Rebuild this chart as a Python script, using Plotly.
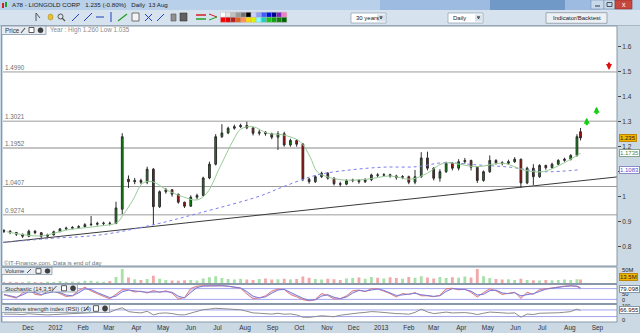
import plotly.graph_objects as go
import pandas as pd

W, H = 640, 333
FONT = "DejaVu Sans"
NFONT = "Liberation Sans"

# ---------------- data (weekly candles) ----------------
week_dates = list(pd.date_range("2011-11-04", periods=93, freq="W-FRI").strftime("%Y-%m-%d")) + ["2013-08-13"]

open_ = [0.865, 0.862, 0.857, 0.85, 0.842, 0.862, 0.856, 0.842, 0.847, 0.86,
         0.871, 0.874, 0.877, 0.88, 0.888, 0.89, 0.893, 0.894, 0.893, 0.95,
         1.07, 1.06, 1.065, 1.058, 1.11, 0.96, 1.02, 1.028, 1.01, 0.978,
         0.962, 0.998, 1.005, 1.075, 1.13, 1.24, 1.255, 1.274, 1.28, 1.285,
         1.275, 1.254, 1.258, 1.252, 1.238, 1.252, 1.207, 1.225, 1.21, 1.07,
         1.06, 1.08, 1.094, 1.074, 1.052, 1.05, 1.064, 1.066, 1.06, 1.068,
         1.087, 1.086, 1.088, 1.083, 1.078, 1.08, 1.058, 1.08, 1.155, 1.114,
         1.074, 1.1, 1.134, 1.114, 1.14, 1.145, 1.118, 1.065, 1.1, 1.145,
         1.136, 1.134, 1.14, 1.15, 1.055, 1.114, 1.08, 1.125, 1.116, 1.13,
         1.145, 1.15, 1.165, 1.26]
close = [0.862, 0.857, 0.85, 0.842, 0.862, 0.856, 0.842, 0.847, 0.86, 0.871,
         0.874, 0.877, 0.88, 0.888, 0.89, 0.893, 0.894, 0.893, 0.955, 1.24,
         1.06, 1.065, 1.058, 1.11, 0.96, 1.02, 1.028, 1.01, 0.978, 0.962,
         0.998, 1.005, 1.075, 1.13, 1.24, 1.255, 1.274, 1.28, 1.285, 1.275,
         1.254, 1.258, 1.252, 1.238, 1.252, 1.207, 1.225, 1.21, 1.07, 1.06,
         1.08, 1.094, 1.074, 1.052, 1.05, 1.064, 1.066, 1.06, 1.068, 1.087,
         1.086, 1.088, 1.083, 1.078, 1.08, 1.058, 1.08, 1.155, 1.114, 1.074,
         1.1, 1.134, 1.114, 1.14, 1.145, 1.118, 1.065, 1.1, 1.145, 1.136,
         1.134, 1.14, 1.15, 1.055, 1.114, 1.08, 1.125, 1.116, 1.13, 1.145,
         1.15, 1.165, 1.24, 1.235]
high = [0.87, 0.866, 0.858, 0.852, 0.868, 0.866, 0.858, 0.852, 0.864, 0.875,
        0.88, 0.882, 0.886, 0.894, 0.923, 0.9, 0.9, 0.9, 0.98, 1.254,
        1.085, 1.075, 1.072, 1.12, 1.115, 1.025, 1.035, 1.03, 1.012, 0.98,
        1.005, 1.012, 1.08, 1.14, 1.25, 1.29, 1.28, 1.288, 1.292, 1.3,
        1.278, 1.268, 1.262, 1.256, 1.262, 1.26, 1.232, 1.23, 1.215, 1.075,
        1.085, 1.1, 1.098, 1.078, 1.06, 1.07, 1.072, 1.07, 1.074, 1.092,
        1.094, 1.094, 1.092, 1.088, 1.086, 1.084, 1.107, 1.178, 1.18, 1.118,
        1.11, 1.14, 1.138, 1.15, 1.155, 1.148, 1.12, 1.105, 1.165, 1.15,
        1.142, 1.148, 1.158, 1.152, 1.12, 1.13, 1.13, 1.128, 1.136, 1.15,
        1.156, 1.17, 1.25, 1.275]
low = [0.855, 0.85, 0.843, 0.835, 0.838, 0.85, 0.835, 0.838, 0.845, 0.858,
       0.866, 0.87, 0.872, 0.876, 0.882, 0.884, 0.886, 0.885, 0.89, 0.93,
       1.035, 1.05, 1.05, 1.05, 0.887, 0.955, 1.012, 1.0, 0.972, 0.955,
       0.96, 0.99, 1.0, 1.07, 1.125, 1.235, 1.25, 1.268, 1.275, 1.27,
       1.245, 1.245, 1.244, 1.23, 1.187, 1.2, 1.2, 1.2, 1.062, 1.052,
       1.055, 1.075, 1.068, 1.045, 1.04, 1.046, 1.058, 1.052, 1.055, 1.062,
       1.078, 1.08, 1.076, 1.068, 1.07, 1.05, 1.05, 1.075, 1.105, 1.065,
       1.06, 1.095, 1.105, 1.105, 1.132, 1.105, 1.055, 1.06, 1.095, 1.128,
       1.125, 1.128, 1.135, 1.035, 1.05, 1.047, 1.075, 1.108, 1.112, 1.126,
       1.14, 1.145, 1.16, 1.225]
volume_m = [5, 6, 5, 4, 7, 5, 4, 6, 5, 8, 6, 7, 6, 9,
            9, 7, 6, 8, 22, 48,
            20, 14, 12, 15, 26,
            16, 12, 10, 9, 11, 12, 10, 17, 21,
            24, 18, 15, 13, 16, 13, 12,
            15, 17, 13, 14, 16, 13, 15,
            23, 19, 15, 13, 16, 14, 12, 17,
            18, 20, 16, 22, 19, 17, 21, 18, 16, 22, 19,
            24, 20, 17, 22, 18, 21, 19, 23, 20, 48,
            24, 18, 15, 13, 14, 12,
            16, 12, 11, 10, 12, 11, 12, 13, 12, 14, 13.5]
stoch_k = [45, 35, 27, 56, 76, 48, 43, 65, 66, 52,
           36, 40, 70, 88, 67, 51, 38, 23, 49, 75,
           73, 61, 66, 55, 70, 59, 68, 55, 22, 30,
           81, 94, 96, 97, 97, 96, 93, 87, 82, 50,
           24, 28, 40, 66, 78, 75, 47, 34, 18, 12,
           20, 53, 42, 22, 24, 40, 68, 72, 63, 80,
           78, 66, 52, 33, 53, 47, 58, 40, 40, 35,
           43, 80, 82, 73, 77, 59, 33, 58, 79, 68,
           47, 54, 60, 25, 60, 48, 75, 79, 84, 91,
           94, 96, 92, 79]
stoch_d = [48, 40, 32, 45, 62, 58, 47, 55, 62, 58,
           44, 40, 56, 78, 75, 58, 45, 30, 38, 62,
           72, 66, 63, 60, 63, 62, 63, 60, 38, 28,
           58, 86, 94, 96, 97, 96, 94, 90, 84, 64,
           38, 28, 34, 54, 72, 76, 58, 40, 26, 15,
           17, 38, 46, 32, 24, 33, 55, 70, 66, 72,
           78, 70, 58, 42, 45, 50, 54, 46, 40, 37,
           40, 64, 80, 77, 75, 66, 45, 48, 68, 72,
           56, 52, 57, 40, 46, 52, 64, 77, 82, 88,
           92, 95, 94, 85]
rsi = [45, 46, 44, 42, 47, 44, 41, 40, 42, 44,
       45, 47, 50, 53, 56, 54, 57, 56, 72, 83,
       60, 55, 52, 62, 40, 50, 52, 48, 41, 40,
       50, 60, 72, 75, 80, 78, 76, 74, 71, 62,
       52, 50, 48, 45, 50, 44, 46, 40, 26, 25,
       30, 35, 32, 29, 38, 44, 50, 52, 55, 60,
       58, 54, 50, 48, 47, 44, 55, 75, 58, 48,
       52, 57, 52, 55, 54, 50, 42, 50, 57, 55,
       52, 50, 52, 26, 45, 42, 50, 50, 51, 53,
       56, 60, 75, 67]

ma_short_dates = ["2011-11-07", "2011-12-14", "2012-01-14", "2012-02-20", "2012-03-10", "2012-03-17",
                  "2012-03-28", "2012-04-08", "2012-04-19", "2012-05-05", "2012-05-23", "2012-06-08",
                  "2012-06-19", "2012-07-04", "2012-07-19", "2012-07-27", "2012-08-10", "2012-08-26",
                  "2012-09-13", "2012-10-02", "2012-10-13", "2012-10-21", "2012-11-01", "2012-11-19",
                  "2012-12-16", "2013-01-11", "2013-02-03", "2013-02-22", "2013-03-12", "2013-04-19",
                  "2013-05-18", "2013-06-10", "2013-07-02", "2013-07-21", "2013-08-13"]
ma_short_vals = [0.86, 0.843, 0.867, 0.883, 0.896, 0.927, 0.987, 1.054, 1.06, 1.027, 1.0, 0.987,
                 1.014, 1.12, 1.227, 1.27, 1.28, 1.254, 1.247, 1.22, 1.16, 1.10, 1.08, 1.067,
                 1.07, 1.083, 1.07, 1.094, 1.134, 1.12, 1.134, 1.107, 1.10, 1.127, 1.1735]
ma_long_dates = ["2011-11-03", "2011-12-26", "2012-02-20", "2012-04-19", "2012-06-11", "2012-08-18",
                 "2012-09-13", "2012-10-21", "2012-11-27", "2013-01-03", "2013-02-10", "2013-03-12",
                 "2013-04-19", "2013-05-26", "2013-07-02", "2013-08-13"]
ma_long_vals = [0.817, 0.833, 0.847, 0.887, 0.935, 1.003, 1.04, 1.087, 1.107, 1.118, 1.12, 1.136,
                1.127, 1.118, 1.10, 1.1083]
trend_dates = ["2011-11-03", "2013-09-23"]
trend_vals = [0.817, 1.079]

fib_levels = [1.4990, 1.3021, 1.1952, 1.0407, 0.9274]
fib_labels = ["1.4990", "1.3021", "1.1952", "1.0407", "0.9274"]

arrow_up_dates = ["2013-08-20", "2013-08-31"]
arrow_up_vals = [1.316, 1.36]
arrow_down_dates = ["2013-09-14"]
arrow_down_vals = [1.507]

month_ticks = list(pd.date_range("2011-12-01", "2013-09-01", freq="MS").strftime("%Y-%m-%d"))
month_labels = ["Dec", "2012", "Feb", "Mar", "Apr", "May", "Jun", "Jul", "Aug", "Sep", "Oct", "Nov",
                "Dec", "2013", "Feb", "Mar", "Apr", "May", "Jun", "Jul", "Aug", "Sep"]
price_ticks = [0.8, 0.9, 1.0, 1.1, 1.2, 1.3, 1.4, 1.5, 1.6]
price_tick_labels = ["0.8", "0.9", "1", "1.1", "1.2", "1.3", "1.4", "1.5", "1.6"]

last_price = 1.235
ma_short_last = 1.1735
ma_long_last = 1.1083
stoch_last = 79.098
rsi_last = 66.955
volume_last_label = "13.5M"
volume_top_label = "50M"
window_title = "A78 - LIONGOLD CORP&nbsp;&nbsp;&nbsp;1.235 (-0.80%)&nbsp;&nbsp;&nbsp;Daily&nbsp;&nbsp;13 Aug"

# ---------------- helpers ----------------
def P(xpx):
    return xpx / W


def Q(ypx):
    return 1 - ypx / H


shapes = []
annotations = []


def rect(x0, y0, x1, y1, fill, line=None, lw=1, layer="above"):
    shapes.append(dict(type="rect", xref="paper", yref="paper",
                       x0=P(x0), x1=P(x1), y0=Q(y1), y1=Q(y0),
                       fillcolor=fill, layer=layer,
                       line=dict(color=line if line else "rgba(0,0,0,0)", width=lw if line else 0)))


def pline(x0, y0, x1, y1, color, lw=1):
    shapes.append(dict(type="line", xref="paper", yref="paper",
                       x0=P(x0), x1=P(x1), y0=Q(y0), y1=Q(y1),
                       line=dict(color=color, width=lw), layer="above"))


def text(x, y, s, size=7, color="#222", anchor="left", family=NFONT, **kw):
    annotations.append(dict(xref="paper", yref="paper", x=P(x), y=Q(y), text=s,
                            showarrow=False, xanchor=anchor, yanchor="middle",
                            font=dict(family=family, size=size, color=color), **kw))


# ---------------- traces ----------------
fig = go.Figure()

fig.add_trace(go.Scatter(x=trend_dates, y=trend_vals, mode="lines",
                         line=dict(color="#3a3a3a", width=1), xaxis="x", yaxis="y",
                         hoverinfo="skip", showlegend=False))
fig.add_trace(go.Scatter(x=ma_long_dates, y=ma_long_vals, mode="lines",
                         line=dict(color="#7c7cf0", width=1, dash="dot", shape="spline"),
                         xaxis="x", yaxis="y", hoverinfo="skip", showlegend=False))
fig.add_trace(go.Scatter(x=ma_short_dates, y=ma_short_vals, mode="lines",
                         line=dict(color="#96cc96", width=1, shape="spline"),
                         xaxis="x", yaxis="y", hoverinfo="skip", showlegend=False))
fig.add_trace(go.Candlestick(x=week_dates, open=open_, high=high, low=low, close=close,
                             increasing=dict(line=dict(color="#2e2e2e", width=1), fillcolor="#009a00"),
                             decreasing=dict(line=dict(color="#2e2e2e", width=1), fillcolor="#c00000"),
                             whiskerwidth=0, xaxis="x", yaxis="y", hoverinfo="skip",
                             showlegend=False))

vol_colors = ["#a8e0a8" if c >= o else "#f0a8a8" for o, c in zip(open_, close)]
fig.add_trace(go.Bar(x=week_dates, y=volume_m, marker=dict(color=vol_colors, line=dict(width=0)),
                     width=3.2 * 86400000, xaxis="x", yaxis="y2", hoverinfo="skip",
                     showlegend=False))

fig.add_trace(go.Scatter(x=week_dates, y=stoch_k, mode="lines",
                         line=dict(color="#e07c7c", width=1), xaxis="x", yaxis="y3",
                         hoverinfo="skip", showlegend=False))
fig.add_trace(go.Scatter(x=week_dates, y=stoch_d, mode="lines", fill="tonexty",
                         fillcolor="rgba(180,165,225,0.45)",
                         line=dict(color="#7a7ad8", width=1), xaxis="x", yaxis="y3",
                         hoverinfo="skip", showlegend=False))
fig.add_trace(go.Scatter(x=week_dates, y=rsi, mode="lines",
                         line=dict(color="#8c8c8c", width=1), xaxis="x", yaxis="y4",
                         hoverinfo="skip", showlegend=False))

# ---------------- window chrome ----------------
# title bar
rect(0, 0, 640, 10, "#b9d0ea")
rect(380, 0, 600, 10, "#9dbbe0")
rect(490, 0, 565, 10, "#7099c8")
rect(2, 3, 4, 8, "#d02020")
rect(5, 2, 7, 7, "#20a020")
text(10, 5, window_title, 6.2, "#1a1a1a")
rect(591, 0, 604, 9, "#c9d9ec", "#7890b0", 0.6)
rect(604, 0, 615, 9, "#c9d9ec", "#7890b0", 0.6)
rect(615, 0, 632, 9, "#c8473c", "#8a3028", 0.6)
pline(595, 6, 600, 6, "#333", 1)
rect(607, 2.5, 612, 6.5, "rgba(0,0,0,0)", "#333", 0.8)
text(623.5, 4.5, "x", 7, "#ffffff", "center")

# toolbar
rect(0, 10, 640, 26, "#d6e2ed")
pline(0, 25.5, 640, 25.5, "#a9b8c6", 1)
pline(36, 13, 36, 21, "#555", 1)
pline(36, 13, 40, 18, "#555", 1)
shapes.append(dict(type="circle", xref="paper", yref="paper", x0=P(48), x1=P(53), y0=Q(20), y1=Q(14),
                   fillcolor="#e8c030", line=dict(color="#a08020", width=0.5)))
shapes.append(dict(type="circle", xref="paper", yref="paper", x0=P(58), x1=P(63), y0=Q(19), y1=Q(14),
                   fillcolor="rgba(0,0,0,0)", line=dict(color="#555", width=1)))
pline(62, 18, 65, 21, "#555", 1.2)
pline(72, 21, 79, 14, "#2040c0", 1)
pline(84, 21, 92, 13, "#2040c0", 1)
pline(96, 17, 104, 17, "#2040c0", 1)
pline(111, 12, 111, 22, "#2040c0", 1)
pline(118, 21, 127, 14, "#20a020", 1.2)
rect(132, 13, 139, 21, "#f4f4f4", "#555", 0.8)
pline(145, 14, 152, 21, "#2040c0", 1)
pline(145, 21, 152, 14, "#2040c0", 1)
pline(157, 21, 164, 14, "#2040c0", 1)
rect(171, 14, 176, 21, "#909090", "#555", 0.6)
rect(180, 13, 187, 21, "#606060", "#333", 0.6)
pline(196, 15, 206, 15, "#d02020", 1.5)
pline(196, 19, 206, 19, "#20a020", 1.5)
pline(209, 14, 217, 17, "#d02020", 1)
pline(209, 20, 217, 17, "#20a020", 1)

palette_top = ["#ffffff", "#e4e4e4", "#c0c0c0", "#9a9a9a", "#707070", "#000000", "#c8d4ff",
               "#8ca0ff", "#3c5cff", "#0010e0", "#000090", "#8020c0", "#f080c0"]
palette_bot = ["#ff0000", "#e00000", "#b02020", "#e06020", "#ff9060", "#ffd800", "#e0f000",
               "#80ffff", "#20d0c0", "#20c020", "#10a010", "#108010", "#006000"]
for i, c in enumerate(palette_top):
    rect(220.5 + i * 5.1, 12.3, 225.6 + i * 5.1, 17.3, c, "#b0b0b0", 0.4)
for i, c in enumerate(palette_bot):
    rect(220.5 + i * 5.1, 17.3, 225.6 + i * 5.1, 22.3, c, "#b0b0b0", 0.4)

rect(351, 13, 386, 23, "#ffffff", "#98a8b8", 0.8)
rect(377, 14.5, 385, 21.5, "#d8e2ec", None)
text(354, 18, "30 years", 6, "#222")
pline(379.5, 17, 382.5, 17, "#333", 1.2)
pline(380.3, 18.3, 381.7, 18.3, "#333", 1.2)
rect(448, 13, 483, 23, "#ffffff", "#98a8b8", 0.8)
rect(475, 14.5, 482, 21.5, "#d8e2ec", None)
text(451, 18, "Daily", 6, "#222")
pline(477, 17, 480, 17, "#333", 1.2)
pline(477.8, 18.3, 479.2, 18.3, "#333", 1.2)
rect(546, 12.7, 607, 23.3, "#eef1f4", "#8c98a4", 0.8)
text(576.5, 18, "Indicator/Backtest", 6, "#222", "center")

# panel frames
for (y0, y1) in [(26, 266), (267, 283.5), (284.5, 303.5), (304.5, 322)]:
    rect(1.5, y0, 617, y1, "rgba(0,0,0,0)", "#8898a8", 1)

# price panel header
rect(1.5, 26, 46, 34.5, "#e6ecf2", "#8898a8", 0.8)
text(3, 30.3, "Price", 6.3, "#333")
pline(21, 33, 25, 28, "#555", 1.2)
rect(29, 27.5, 34, 32.5, "#ffffff", "#333", 0.8)
shapes.append(dict(type="circle", xref="paper", yref="paper", x0=P(38), x1=P(43), y0=Q(32.8), y1=Q(27.8),
                   fillcolor="#404040", line=dict(color="#222", width=0.5)))
text(48, 30.3, "Year : High 1.260 Low 1.035", 6.3, "#8a8a8a")
text(2, 262.5, "©IT-Finance.com. Data is end of day", 6, "#707070")

# indicator headers
for (x1, y0, y1, label) in [(52, 267.5, 274.5, "Volume"),
                            (77.5, 284.5, 292, "Stochastic (14,3,5)"),
                            (109.5, 304.5, 312.5, "Relative strength index (RSI) (14)")]:
    rect(1.5, y0, x1, y1, "#e6ecf2", "#8898a8", 0.8)
    text(3, (y0 + y1) / 2 + 0.3, label, 5.8, "#333")
    pline(x1 - 25, y1 - 1.5, x1 - 21, y0 + 1.5, "#555", 1)
    rect(x1 - 16, y0 + 1.2, x1 - 11, y1 - 1.2, "#ffffff", "#333", 0.8)
    shapes.append(dict(type="circle", xref="paper", yref="paper", x0=P(x1 - 7), x1=P(x1 - 2),
                       y0=Q(y1 - 1.2), y1=Q(y0 + 1.2), fillcolor="#404040",
                       line=dict(color="#222", width=0.5)))

# horizontal levels
for lvl, lab in zip(fib_levels, fib_labels):
    wide = lab == "1.1952"
    shapes.append(dict(type="line", xref="paper", yref="y", x0=P(3), x1=P(617), y0=lvl, y1=lvl,
                       line=dict(color="#c4c4c4" if wide else "#9c9c9c", width=2 if wide else 1),
                       layer="below"))
    annotations.append(dict(xref="paper", yref="y", x=P(3), y=lvl, text=lab, showarrow=False,
                            xanchor="left", yanchor="bottom", yshift=-1,
                            font=dict(family=NFONT, size=6.3, color="#707070")))

# stochastic / rsi guide lines
for lvl in [80, 20]:
    shapes.append(dict(type="line", xref="paper", yref="y3", x0=P(2), x1=P(617), y0=lvl, y1=lvl,
                       line=dict(color="#a4a4f0", width=1), layer="below"))
for lvl in [70, 30]:
    shapes.append(dict(type="line", xref="paper", yref="y4", x0=P(2), x1=P(617), y0=lvl, y1=lvl,
                       line=dict(color="#a4a4f0", width=1), layer="below"))

# signal arrows
for d, v in zip(arrow_up_dates, arrow_up_vals):
    annotations.append(dict(xref="x", yref="y", x=d, y=v, ax=0, ay=9, text="", showarrow=True,
                            arrowhead=2, arrowsize=0.55, arrowwidth=2.2, arrowcolor="#10d010"))
for d, v in zip(arrow_down_dates, arrow_down_vals):
    annotations.append(dict(xref="x", yref="y", x=d, y=v, ax=0, ay=-9, text="", showarrow=True,
                            arrowhead=2, arrowsize=0.55, arrowwidth=2.2, arrowcolor="#e01010"))

# right-axis value boxes
def vbox(yref, yval, s, bg, fg, border):
    annotations.append(dict(xref="paper", yref=yref, x=P(619), y=yval, text=s, showarrow=False,
                            xanchor="left", yanchor="middle", bgcolor=bg, bordercolor=border,
                            borderwidth=1, borderpad=0,
                            font=dict(family=NFONT, size=6, color=fg)))


vbox("y", last_price, f"{last_price:.3f}", "#f2b400", "#222", "#c08800")
vbox("y", ma_short_last, f"{ma_short_last:.4f}", "#ffffff", "#4a8a4a", "#8aa08a")
vbox("y", ma_long_last, f"{ma_long_last:.4f}", "#ffffff", "#5050d0", "#8a8ac8")
text(620, 270, volume_top_label, 5.8, "#222")
annotations.append(dict(xref="paper", yref="paper", x=P(619), y=Q(276.7), text=volume_last_label,
                        showarrow=False, xanchor="left", yanchor="middle", bgcolor="#f2b400",
                        bordercolor="#c08800", borderwidth=1, borderpad=0,
                        font=dict(family=NFONT, size=6, color="#222")))
text(620, 294, "50", 5.8, "#222")
text(620, 299.5, "0", 5.5, "#222")
vbox("y3", stoch_last, f"{stoch_last:.3f}", "#ffffff", "#222", "#8898a8")
text(620, 306, "100", 5, "#222")
text(620, 320, "0", 5.8, "#222")
vbox("y4", rsi_last, f"{rsi_last:.3f}", "#ffffff", "#222", "#8898a8")

# ---------------- layout ----------------
fig.update_layout(
    width=W, height=H, margin=dict(l=0, r=0, t=0, b=0),
    paper_bgcolor="#cbd9e5", plot_bgcolor="#ffffff",
    showlegend=False, font=dict(family=NFONT, size=7, color="#333"),
    xaxis=dict(domain=[P(3), P(617)], type="date", range=["2011-11-03", "2013-09-23"],
               anchor="y4", tickvals=month_ticks, ticktext=month_labels,
               tickfont=dict(family=NFONT, size=6.5, color="#333"), ticks="",
               showgrid=False, zeroline=False, showline=False,
               rangeslider=dict(visible=False), fixedrange=True),
    yaxis=dict(domain=[Q(266), Q(26)], range=[0.7228, 1.6828], anchor="x", side="right",
               tickvals=price_ticks, ticktext=price_tick_labels, ticks="outside", ticklen=3,
               tickcolor="#444", tickfont=dict(family=NFONT, size=6.5, color="#333"),
               showgrid=False, zeroline=False, showline=False, fixedrange=True),
    yaxis2=dict(domain=[Q(283.5), Q(267)], range=[0, 55], anchor="x", showticklabels=False,
                showgrid=False, zeroline=False, fixedrange=True),
    yaxis3=dict(domain=[Q(303.5), Q(284.5)], range=[-3, 103], anchor="x", showticklabels=False,
                showgrid=False, zeroline=False, fixedrange=True),
    yaxis4=dict(domain=[Q(322), Q(304.5)], range=[-3, 103], anchor="x", showticklabels=False,
                showgrid=False, zeroline=False, fixedrange=True),
    shapes=shapes, annotations=annotations,
)

fig.write_html("out.html", config={"displayModeBar": False, "staticPlot": True})
